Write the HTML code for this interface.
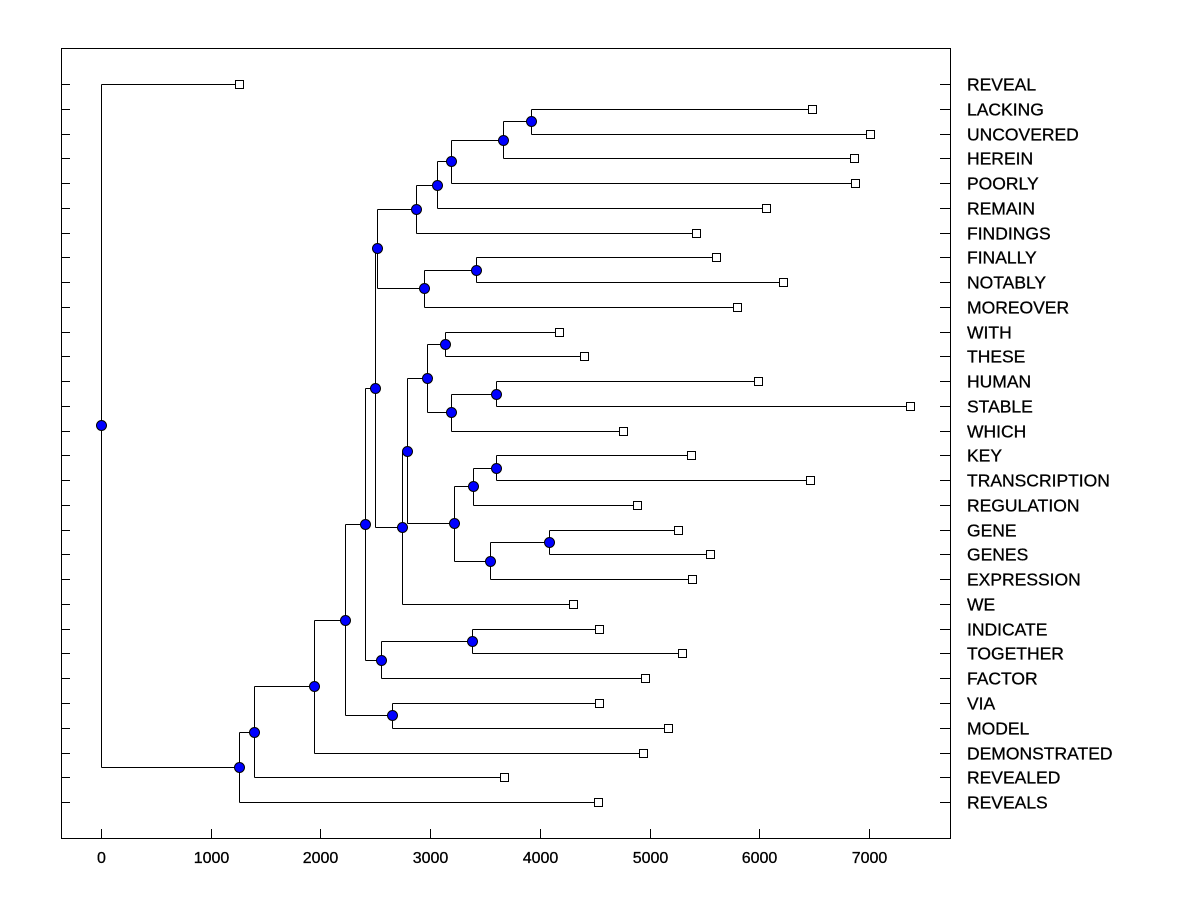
<!DOCTYPE html>
<html><head><meta charset="utf-8"><style>
html,body{margin:0;padding:0;background:#fff;}
svg text{font-family:"Liberation Sans",Arial,sans-serif;}
</style></head><body>
<svg id="chart" width="1200" height="900" xmlns="http://www.w3.org/2000/svg">
<rect x="0" y="0" width="1200" height="900" fill="#fff"/>
<g id="plot"></g>
</svg>
<script>
const leafNames = ["REVEAL","LACKING","UNCOVERED","HEREIN","POORLY","REMAIN","FINDINGS","FINALLY","NOTABLY","MOREOVER","WITH","THESE","HUMAN","STABLE","WHICH","KEY","TRANSCRIPTION","REGULATION","GENE","GENES","EXPRESSION","WE","INDICATE","TOGETHER","FACTOR","VIA","MODEL","DEMONSTRATED","REVEALED","REVEALS"];
const leafValues = [1258,6481,7009,6863,6873,6061,5423,5606,6216,5797,4175,4402,5988,7374,4758,5378,6463,4886,5259,5551,5387,4302,4539,5296,4959,4539,5168,4940,3673,4530];
// internal nodes: [name, height, child1, child2]; children are leaf indices (numbers) or node names
const nodeNames = ["Q","P","O","N","L","R","M","J","V","X","W","T","AA","Y","AB","Z","U","S","K","H","I","G","E","F","D","C","B","A","root"];
const nodeHeights = [3919,3664,3190,3063,2871,3418,2944,2516,3136,3600,3190,2972,3600,3391,4084,3546,3218,2789,2744,2497,3382,2552,2652,2406,2224,1942,1395,1258,0];
const nodeChildren = [[1,2],["Q",3],["P",4],["O",5],["N",6],[7,8],["R",9],["L","M"],[10,11],[12,13],["X",14],["V","W"],[15,16],["AA",17],[18,19],["AB",20],["Y","Z"],["T","U"],["S",21],["J","K"],[22,23],["I",24],[25,26],["G","H"],["E","F"],[27,"D"],[28,"C"],[29,"B"],[0,"A"]];
const xTicks = [0,1000,2000,3000,4000,5000,6000,7000];

const NS="http://www.w3.org/2000/svg";
const g=document.getElementById('plot');
const L=61,R=950,T=48,B=838;
const xs=v=>101+v*0.10971;
const ys=i=>84+i*24.76;
function mk(tag,attrs,parent){const e=document.createElementNS(NS,tag);for(const k in attrs)e.setAttribute(k,attrs[k]);(parent||g).appendChild(e);return e;}

let f=mk('rect',{x:L+0.5,y:T+0.5,width:R-L,height:B-T,fill:'none',stroke:'#000','stroke-width':1});



xTicks.forEach(t=>{
  const x=Math.round(xs(t))+0.5;
  let l=mk('line',{x1:x,x2:x,y1:B,y2:B-9,stroke:'#000'});
  
  
  let tx=mk('text',{x:x,y:863,'text-anchor':'middle','font-size':16,fill:'#000',stroke:'#000','stroke-width':0.3});
  tx.textContent=t;
  
  
});

leafNames.forEach((n,i)=>{
  const y=Math.round(ys(i))+0.5;
  let a=mk('line',{x1:L,x2:L+9,y1:y,y2:y,stroke:'#000'});
  
  
  let b=mk('line',{x1:R-10,x2:R,y1:y,y2:y,stroke:'#000'});
  
  
  let tx=mk('text',{x:967,y:y+6,'font-size':17.5,fill:'#000',stroke:'#000','stroke-width':0.3});
  tx.textContent=n;
  
  
});

const pos={};
leafNames.forEach((n,i)=>{pos[i]={x:xs(leafValues[i]),y:ys(i)};});
nodeNames.forEach((n,k)=>{
  const c=nodeChildren[k].map(c=>pos[c]);
  pos[n]={x:xs(nodeHeights[k]),y:(c[0].y+c[1].y)/2,c:c};
});
const lines=mk('g',{});


nodeNames.forEach(n=>{
  const p=pos[n];const x=Math.round(p.x)+0.5;
  let v=mk('line',{x1:x,x2:x,y1:Math.round(p.c[0].y)+0.5,y2:Math.round(p.c[1].y)+0.5,stroke:'#000'},lines);
  
  
  p.c.forEach(c=>{
    const y=Math.round(c.y)+0.5;
    let h=mk('line',{x1:x,x2:Math.round(c.x)+0.5,y1:y,y2:y,stroke:'#000'},lines);
    
    
  });
});
leafNames.forEach((n,i)=>{
  const p=pos[i];
  let s=mk('rect',{x:Math.round(p.x)-3.5,y:Math.round(p.y)-3.5,width:8,height:8,fill:'#fff',stroke:'#000'});
  
  
});
nodeNames.forEach(n=>{
  const p=pos[n];
  let c=mk('circle',{cx:Math.round(p.x)+0.5,cy:Math.round(p.y)+0.5,r:5,fill:'#0000ff',stroke:'#000'});
  
  
});
</script>
</body></html>
